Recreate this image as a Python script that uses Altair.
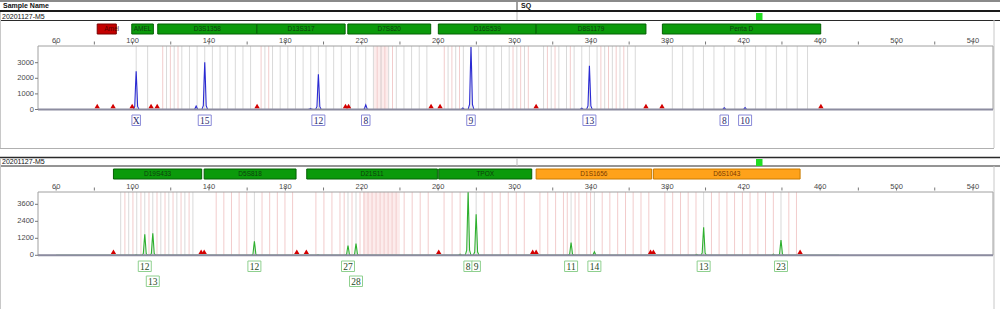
import altair as alt
import pandas as pd

# ---------------- values ----------------
sample_title = "Sample Name"
sample_col2 = "SQ"
sample_name = "20201127-M5"

x_tick_values = [60, 80, 100, 120, 140, 160, 180, 200, 220, 240, 260, 280, 300,
                 320, 340, 360, 380, 400, 420, 440, 460, 480, 500, 520, 540]
x_label_values = [60, 100, 140, 180, 220, 260, 300, 340, 380, 420, 460, 500, 540]
top_y_ticks = [0, 1000, 2000, 3000]
bottom_y_ticks = [0, 1200, 2400, 3600]

# top dye (blue)
top_peak_bp = [101.9, 133.3, 137.8, 193.2, 197.3, 222.1, 272.9, 277.2, 335.2, 339.2, 409.8, 420.7]
top_peak_rfu = [2450, 220, 3030, 70, 2260, 300, 100, 4000, 90, 2800, 110, 120]
top_allele_bp = [101.9, 137.8, 197.3, 222.1, 277.2, 339.2, 409.8, 420.7]
top_allele_call = ["X", "15", "12", "8", "9", "13", "8", "10"]
top_allele_row = [1, 1, 1, 1, 1, 1, 1, 1]
top_sizer_bp = [81.5, 89.8, 99.8, 109.7, 112.9, 165.2, 211.5, 213.1, 256.3, 261.0,
                311.3, 368.8, 377.2, 460.4]
top_marker_name = ["Amel", "AMEL", "D3S1358", "D13S317", "D7S820", "D16S539", "D8S1179", "Penta D"]
top_marker_start = [81.5, 99.6, 113.2, 165.1, 212.7, 260.1, 311.3, 377.4]
top_marker_end = [91.5, 110.9, 165.1, 211.3, 256.1, 311.3, 368.8, 460.3]
top_marker_kind = ["red", "green", "green", "green", "green", "green", "green", "green"]
top_shade = [226.0, 234.0]
top_bins_gray = [101.9, 107.9,
                 117.8, 121.8, 125.8, 129.8, 133.8, 137.8, 141.8, 145.8, 149.8, 153.8, 157.8, 161.8,
                 169.3, 173.3, 177.3, 181.3, 185.3, 189.3, 193.3, 197.3, 201.3, 205.3, 209.3,
                 214.1, 218.1, 222.1, 226.1, 230.1, 234.1, 238.1, 242.1, 246.1, 250.1, 254.1,
                 265.2, 269.2, 273.2, 277.2, 281.2, 285.2, 289.2, 293.2, 297.2, 301.2, 305.2,
                 315.2, 319.2, 323.2, 327.2, 331.2, 335.2, 339.2, 343.2, 347.2, 351.2, 355.2, 359.2, 363.2,
                 382.6, 388.0, 393.5, 398.9, 404.4, 409.8, 415.3, 420.7, 426.2, 431.6, 437.1, 442.5, 448.0, 453.4]
top_bins_pink = [115.8, 119.8, 123.8, 167.3, 171.3, 228.1, 230.1, 232.1, 236.1, 263.2, 267.2,
                 271.2, 299.2, 303.2, 307.2, 317.2, 321.2, 329.2, 345.2, 349.2, 353.2, 357.2]

# bottom dye (green)
bottom_peak_bp = [101.9, 106.4, 110.6, 163.8, 197.1, 212.8, 217.0, 271.5, 275.7, 279.9,
                  329.6, 341.8, 395.3, 399.0, 435.5, 439.5]
bottom_peak_rfu = [40, 1480, 1550, 990, 40, 680, 820, 80, 4450, 2890,
                   890, 250, 70, 1980, 80, 1080]
bottom_allele_bp = [106.4, 110.6, 163.8, 212.8, 217.0, 275.7, 279.9, 329.6, 341.8, 399.0, 439.5]
bottom_allele_call = ["12", "13", "12", "27", "28", "8", "9", "11", "14", "13", "23"]
bottom_allele_row = [1, 2, 1, 1, 2, 1, 1, 1, 1, 1, 1]
bottom_sizer_bp = [90.0, 135.9, 137.5, 186.0, 191.0, 260.3, 309.5, 311.3, 371.2, 372.7, 449.5]
bottom_marker_name = ["D19S433", "D5S818", "D21S11", "TPOX", "D1S1656", "D6S1043"]
bottom_marker_start = [90.0, 137.5, 191.2, 260.3, 311.3, 372.7]
bottom_marker_end = [136.2, 185.6, 259.6, 309.0, 371.8, 449.5]
bottom_marker_kind = ["green", "green", "green", "green", "orange", "orange"]
bottom_shade = [220.7, 240.0]
bottom_bins_gray = [93.8, 98.0, 102.2, 106.4, 110.6, 114.8, 119.0, 123.2, 127.4, 131.6,
                    163.8, 212.8, 217.0, 275.7, 279.9, 329.6, 341.8, 399.0, 439.5]
bottom_bins_pink = [96.0, 100.2, 104.4, 108.6, 112.8, 117.0, 121.2, 125.4, 129.6,
                    143.8, 147.8, 151.8, 155.8, 159.8, 167.8, 171.8, 175.8, 179.8, 183.8,
                    196.0, 200.2, 204.4, 208.6, 210.8, 214.9, 219.1, 221.2, 223.3, 225.4, 227.5,
                    229.6, 231.7, 233.8, 235.9, 238.0, 242.2, 246.4, 250.6, 254.8,
                    263.1, 267.3, 271.5, 284.1, 288.3, 292.5, 296.7, 300.9, 305.1,
                    313.3, 317.4, 321.5, 325.6, 327.6, 331.7, 333.7, 337.8, 339.8, 345.9, 349.9,
                    354.0, 358.1, 362.1, 366.2, 370.3,
                    378.7, 382.8, 386.9, 390.9, 395.0, 403.1, 407.1, 411.2, 415.2, 419.3, 423.3,
                    427.4, 431.4, 435.5, 443.6, 447.6]

# ---------------- layout / style ----------------
W, H = 1000, 309
PLOT_L, PLOT_R = 38, 993
X_DOMAIN = [50.5, 550.5]
PX_PER_BP = (PLOT_R - PLOT_L) / (X_DOMAIN[1] - X_DOMAIN[0])
XS = alt.Scale(domain=X_DOMAIN, range=[PLOT_L, PLOT_R])
SANS = "Liberation Sans"
SERIF = "Liberation Serif"

KIND_FILL = {"red": "#c40000", "green": "#0b9a0b", "orange": "#ffa21a"}
KIND_STROKE = {"red": "#7a0000", "green": "#056005", "orange": "#c97a00"}
KIND_TEXT = {"red": "#5a0000", "green": "#0d3f0d", "orange": "#7a3a00"}
KIND_ALIGN_SHIFT = {"red": 2.5, "green": 0.0, "orange": 0.0}  # bp shift of label

PEAK_DX = [-1.5, -0.75, -0.35, 0.0, 0.35, 0.75, 1.5]
PEAK_F = [0.0, 0.08, 0.6, 1.0, 0.6, 0.08, 0.0]

TOP = dict(y_top=46, y_base=109.5, ymax=4070, bar=(24, 34), lab_y=40.5, tick=(41.5, 44.5),
           rows={1: 115, 2: 130}, trace="#2a2ad2", box="#8a8ad8", txt="#2a2a6a")
BOT = dict(y_top=192, y_base=255.3, ymax=4470, bar=(169, 179), lab_y=186.5, tick=(187.5, 190.5),
           rows={1: 261, 2: 276}, trace="#2eb02e", box="#8fd08f", txt="#1f4a1f")

one = pd.DataFrame({"k": [0]})


def panel(cfg, peak_bp, peak_rfu, al_bp, al_call, al_row, sizer, bins_g, bins_p, shade,
          m_name, m_start, m_end, m_kind, y_ticks):
    ys = alt.Scale(domain=[0, cfg["ymax"]], range=[cfg["y_base"], cfg["y_top"]])
    top, base = cfg["y_top"], cfg["y_base"]
    L = []
    sh = pd.DataFrame({"a": [shade[0]], "b": [shade[1]]})
    L.append(alt.Chart(sh).mark_rect(color="#fcecec").encode(
        x=alt.X("a:Q", scale=XS, axis=None), x2="b:Q", y=alt.value(top), y2=alt.value(base)))
    for bins, col in ((bins_p, "#f2cccc"), (bins_g, "#d9d9d9")):
        L.append(alt.Chart(pd.DataFrame({"bp": bins})).mark_rule(color=col, strokeWidth=1).encode(
            x=alt.X("bp:Q", scale=XS, axis=None), y=alt.value(top), y2=alt.value(base)))
    # frame
    L.append(alt.Chart(one).mark_rect(fillOpacity=0, stroke="#a0a0a0", strokeWidth=1).encode(
        x=alt.value(PLOT_L), x2=alt.value(PLOT_R), y=alt.value(top), y2=alt.value(base)))
    # trace
    rows = [(60.0, 0.0), (470.0, 0.0)]
    for p, h in zip(peak_bp, peak_rfu):
        for dx, f in zip(PEAK_DX, PEAK_F):
            rows.append((p + dx, h * f))
    tr = pd.DataFrame(rows, columns=["bp", "rfu"]).sort_values("bp")
    L.append(alt.Chart(tr).mark_line(color=cfg["trace"], strokeWidth=1.1).encode(
        x=alt.X("bp:Q", scale=XS, axis=None), y=alt.Y("rfu:Q", scale=ys, axis=None),
        order="bp:Q"))
    # baseline
    L.append(alt.Chart(one).mark_rule(color="#8c8ca0", strokeWidth=2).encode(
        x=alt.value(PLOT_L), x2=alt.value(PLOT_R), y=alt.value(base)))
    # sizing markers
    L.append(alt.Chart(pd.DataFrame({"bp": sizer, "z": [0] * len(sizer)})).mark_point(
        shape="triangle-up", filled=True, size=28, color="#d40000", opacity=1).encode(
        x=alt.X("bp:Q", scale=XS, axis=None), y=alt.Y("z:Q", scale=ys, axis=None),
        yOffset=alt.value(-3.5)))
    # x axis
    L.append(alt.Chart(pd.DataFrame({"v": x_tick_values})).mark_rule(color="#777", strokeWidth=1).encode(
        x=alt.X("v:Q", scale=XS, axis=None), y=alt.value(cfg["tick"][0]), y2=alt.value(cfg["tick"][1])))
    L.append(alt.Chart(pd.DataFrame({"v": x_label_values, "t": [str(v) for v in x_label_values]}))
             .mark_text(font=SANS, fontSize=7.5, color="#4a4a4a", baseline="middle").encode(
        x=alt.X("v:Q", scale=XS, axis=None), y=alt.value(cfg["lab_y"]), text="t:N"))
    # y axis
    yt = pd.DataFrame({"v": y_ticks, "t": [str(v) for v in y_ticks]})
    L.append(alt.Chart(yt).mark_rule(color="#777", strokeWidth=1).encode(
        x=alt.value(PLOT_L - 3), x2=alt.value(PLOT_L), y=alt.Y("v:Q", scale=ys, axis=None)))
    L.append(alt.Chart(yt).mark_text(font=SANS, fontSize=7.5, color="#4a4a4a", align="right",
                                     baseline="middle").encode(
        x=alt.value(PLOT_L - 4), y=alt.Y("v:Q", scale=ys, axis=None), text="t:N"))
    # marker bars
    md = pd.DataFrame({"name": m_name, "s": m_start, "e": m_end, "kind": m_kind})
    md["mid"] = (md["s"] + md["e"]) / 2 + md["kind"].map(KIND_ALIGN_SHIFT)
    md["fill"] = md["kind"].map(KIND_FILL)
    md["stroke"] = md["kind"].map(KIND_STROKE)
    md["tc"] = md["kind"].map(KIND_TEXT)
    L.append(alt.Chart(md).mark_rect(strokeWidth=1).encode(
        x=alt.X("s:Q", scale=XS, axis=None), x2="e:Q",
        y=alt.value(cfg["bar"][0]), y2=alt.value(cfg["bar"][1]),
        fill=alt.Fill("fill:N", scale=None), stroke=alt.Stroke("stroke:N", scale=None)))
    L.append(alt.Chart(md).mark_text(font=SANS, fontSize=6.5, baseline="middle").encode(
        x=alt.X("mid:Q", scale=XS, axis=None), y=alt.value((cfg["bar"][0] + cfg["bar"][1]) / 2),
        text="name:N", color=alt.Color("tc:N", scale=None)))
    # allele call boxes
    ad = pd.DataFrame({"bp": al_bp, "call": al_call, "row": al_row})
    hw = (4.5 * ad["call"].str.len() + 4) / 2 / PX_PER_BP
    ad["lo"] = ad["bp"] - hw
    ad["hi"] = ad["bp"] + hw
    ad["y0"] = ad["row"].map(cfg["rows"])
    ad["y1"] = ad["y0"] + 10.5
    ad["yc"] = ad["y0"] + 5.6
    L.append(alt.Chart(ad).mark_rect(fill="white", stroke=cfg["box"], strokeWidth=1).encode(
        x=alt.X("lo:Q", scale=XS, axis=None), x2="hi:Q",
        y=alt.Y("y0:Q", scale=None, axis=None), y2="y1:Q"))
    L.append(alt.Chart(ad).mark_text(font=SERIF, fontSize=9.5, color=cfg["txt"], baseline="middle").encode(
        x=alt.X("bp:Q", scale=XS, axis=None), y=alt.Y("yc:Q", scale=None, axis=None), text="call:N"))
    return L


layers = []
# header lines
hl = pd.DataFrame({
    "x1": [0, 0, 0, 0, 0, 0],
    "x2": [1000, 1000, 1000, 994, 1000, 1000],
    "y": [1, 11, 20.5, 148.5, 157.5, 166],
    "c": ["#8a8a8a", "#1a1a1a", "#2a2a2a", "#b0b0b0", "#2a2a2a", "#2a2a2a"],
    "w": [2, 2, 1, 1, 1.5, 1],
})
layers.append(alt.Chart(hl).mark_rule().encode(
    x=alt.X("x1:Q", scale=None, axis=None), x2="x2:Q", y=alt.Y("y:Q", scale=None, axis=None),
    color=alt.Color("c:N", scale=None), strokeWidth=alt.StrokeWidth("w:Q", scale=None)))
vl = pd.DataFrame({
    "x": [517, 517, 517, 0.5, 994, 0.5, 994],
    "y1": [2, 12, 158, 12, 20, 158, 166],
    "y2": [10, 20, 166, 148, 148, 309, 309],
    "c": ["#444", "#bbb", "#bbb", "#c8c8c8", "#c8c8c8", "#c8c8c8", "#c8c8c8"],
})
layers.append(alt.Chart(vl).mark_rule(strokeWidth=1).encode(
    x=alt.X("x:Q", scale=None, axis=None), y=alt.Y("y1:Q", scale=None, axis=None), y2="y2:Q",
    color=alt.Color("c:N", scale=None)))
ht = pd.DataFrame({
    "x": [3, 521, 2, 2],
    "y": [6, 6, 16.5, 162],
    "t": [sample_title, sample_col2, sample_name, sample_name],
    "wgt": ["bold", "bold", "normal", "normal"],
})
for wgt in ("bold", "normal"):
    layers.append(alt.Chart(ht[ht["wgt"] == wgt]).mark_text(
        font=SANS, fontSize=7, fontWeight=wgt, color="#111", align="left", baseline="middle").encode(
        x=alt.X("x:Q", scale=None, axis=None), y=alt.Y("y:Q", scale=None, axis=None), text="t:N"))
sq = pd.DataFrame({"x1": [756, 756], "x2": [762.5, 762.5], "y1": [13, 159], "y2": [20, 166]})
layers.append(alt.Chart(sq).mark_rect(color="#22dd22").encode(
    x=alt.X("x1:Q", scale=None, axis=None), x2="x2:Q",
    y=alt.Y("y1:Q", scale=None, axis=None), y2="y2:Q"))

layers += panel(TOP, top_peak_bp, top_peak_rfu, top_allele_bp, top_allele_call, top_allele_row,
                top_sizer_bp, top_bins_gray, top_bins_pink, top_shade,
                top_marker_name, top_marker_start, top_marker_end, top_marker_kind, top_y_ticks)
layers += panel(BOT, bottom_peak_bp, bottom_peak_rfu, bottom_allele_bp, bottom_allele_call,
                bottom_allele_row, bottom_sizer_bp, bottom_bins_gray, bottom_bins_pink, bottom_shade,
                bottom_marker_name, bottom_marker_start, bottom_marker_end, bottom_marker_kind,
                bottom_y_ticks)

chart = alt.layer(*layers).resolve_scale(
    x="independent", y="independent", color="independent", fill="independent",
    stroke="independent", strokeWidth="independent"
).properties(
    width=W, height=H, autosize=alt.AutoSizeParams(type="none"), padding=0, background="white"
).configure_view(stroke=None)

chart.save("out.html", embed_options={"renderer": "svg", "actions": False})
